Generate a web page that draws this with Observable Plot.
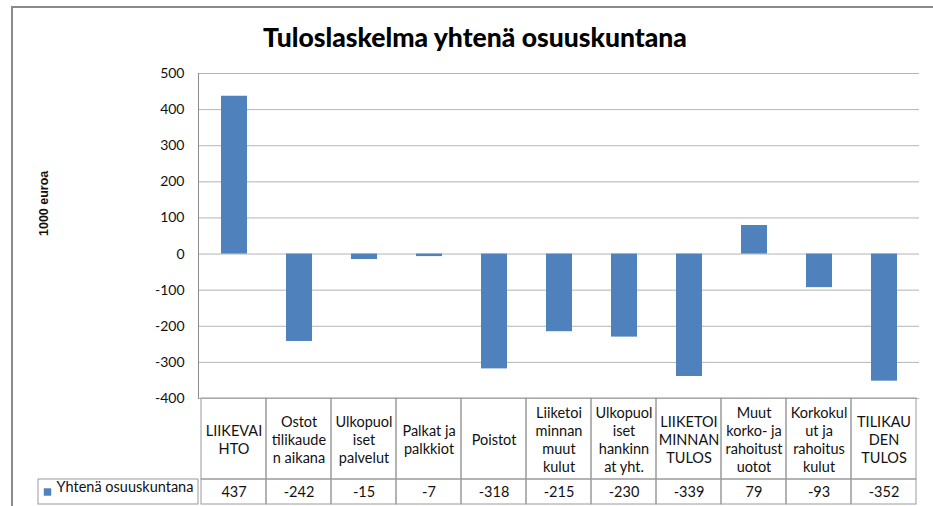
<!DOCTYPE html>
<html>
<head>
<meta charset="utf-8">
<script src="https://cdn.jsdelivr.net/npm/d3@7"></script>
<script src="https://cdn.jsdelivr.net/npm/@observablehq/plot@0.6"></script>
<style>
  html, body { margin: 0; padding: 0; background: #fff; }
  #wrap { position: relative; width: 933px; height: 506px; overflow: hidden; }
  #border { position: absolute; left: 11px; top: 6px; width: 940px; height: 520px;
            border-left: 2px solid #8a8a8a; border-top: 2px solid #8a8a8a; box-sizing: border-box; }
  #title { height: 62px; box-sizing: border-box; padding-top: 21px; padding-left: 17px;
           text-align: center; font-family: Lato, "DejaVu Sans", sans-serif; font-weight: 900;
           font-size: 26.5px; line-height: 32px; color: #000; }
  #chart svg { display: block; }
</style>
</head>
<body>
<div id="wrap">
  <div id="border"></div>
  <div id="title">Tuloslaskelma yhtenä osuuskuntana</div>
  <div id="chart"></div>
</div>
<script>
// ---- data ----
const categories = ["LIIKEVAIHTO", "Ostot tilikauden aikana", "Ulkopuoliset palvelut", "Palkat ja palkkiot",
  "Poistot", "Liiketoiminnan muut kulut", "Ulkopuoliset hankinnat yht.", "LIIKETOIMINNAN TULOS",
  "Muut korko- ja rahoitustuotot", "Korkokulut ja rahoituskulut", "TILIKAUDEN TULOS"];
const categoryLabels = ["LIIKEVAI\nHTO", "Ostot\ntilikaude\nn aikana", "Ulkopuol\niset\npalvelut", "Palkat ja\npalkkiot",
  "Poistot", "Liiketoi\nminnan\nmuut\nkulut", "Ulkopuol\niset\nhankinn\nat yht.", "LIIKETOI\nMINNAN\nTULOS",
  "Muut\nkorko- ja\nrahoitust\nuotot", "Korkokul\nut ja\nrahoitus\nkulut", "TILIKAU\nDEN\nTULOS"];
const values = [437, -242, -15, -7, -318, -215, -230, -339, 79, -93, -352];
const seriesName = "Yhtenä osuuskuntana";
const yTicks = [500, 400, 300, 200, 100, 0, -100, -200, -300, -400];
const yLabel = "1000 euroa";

const rows = categories.map((c, i) => ({category: c, label: categoryLabels[i], value: values[i]}));

// ---- layout ----
const W = 933, H = 444, mL = 198, mR = 14, mT = 11, mB = 108;
const frameW = W - mL - mR;
const catRowH = 81, valRowH = 25, legendW = 160;
const barColor = "#4F81BD";
const tableStroke = "#9a9a9a";
const yMin = d3.min(yTicks);

const chart = Plot.plot({
  width: W, height: H,
  marginLeft: mL, marginRight: mR, marginTop: mT, marginBottom: mB,
  style: {fontFamily: "Lato, 'DejaVu Sans', sans-serif", fontSize: "14px", color: "#111", background: "transparent"},
  x: {domain: categories, padding: 0, axis: null},
  y: {domain: [d3.min(yTicks), d3.max(yTicks)], axis: null},
  marks: [
    Plot.ruleY(yTicks, {stroke: "#b4b4b4", strokeWidth: 1}),
    Plot.frame({anchor: "left", stroke: "#8c8c8c"}),
    Plot.axisY({ticks: yTicks, tickSize: 0, tickPadding: 14, fontSize: 14, label: null, tickFormat: d => String(d)}),
    Plot.text([yLabel], {frameAnchor: "left", dx: -155, rotate: -90, fontWeight: "bold", fontSize: 12.5,
      fontFamily: "'Liberation Sans', Arial, sans-serif"}),
    Plot.barY(rows, {x: "category", y: "value", fill: barColor, insetLeft: 20, insetRight: 19}),
    // data table: category row cells
    Plot.barY(rows, {x: "category", y1: yMin, y2: yMin, insetBottom: -catRowH, fill: "none", stroke: tableStroke}),
    // data table: value row cells
    Plot.barY(rows, {x: "category", y1: yMin, y2: yMin, insetTop: catRowH, insetBottom: -(catRowH + valRowH), fill: "none", stroke: tableStroke}),
    // legend cell at left of value row
    Plot.barY([seriesName], {y1: yMin, y2: yMin, insetTop: catRowH, insetBottom: -(catRowH + valRowH),
      insetLeft: -legendW, insetRight: frameW, fill: "none", stroke: tableStroke}),
    Plot.dot([seriesName], {frameAnchor: "bottom-left", dx: -151, dy: catRowH + valRowH / 2, symbol: "square", r: 4.2, fill: barColor, stroke: "none"}),
    Plot.text([seriesName], {frameAnchor: "bottom-left", dx: -142, dy: catRowH + valRowH / 2, textAnchor: "start", fontSize: 14.5}),
    Plot.text(rows, {x: "category", frameAnchor: "bottom", dy: catRowH / 2, text: "label", lineAnchor: "middle", lineHeight: 1.25, fontSize: 14.5}),
    Plot.text(rows, {x: "category", frameAnchor: "bottom", dy: catRowH + valRowH / 2, text: d => String(d.value), lineAnchor: "middle", fontSize: 14.5})
  ]
});
document.getElementById("chart").appendChild(chart);
</script>
</body>
</html>
